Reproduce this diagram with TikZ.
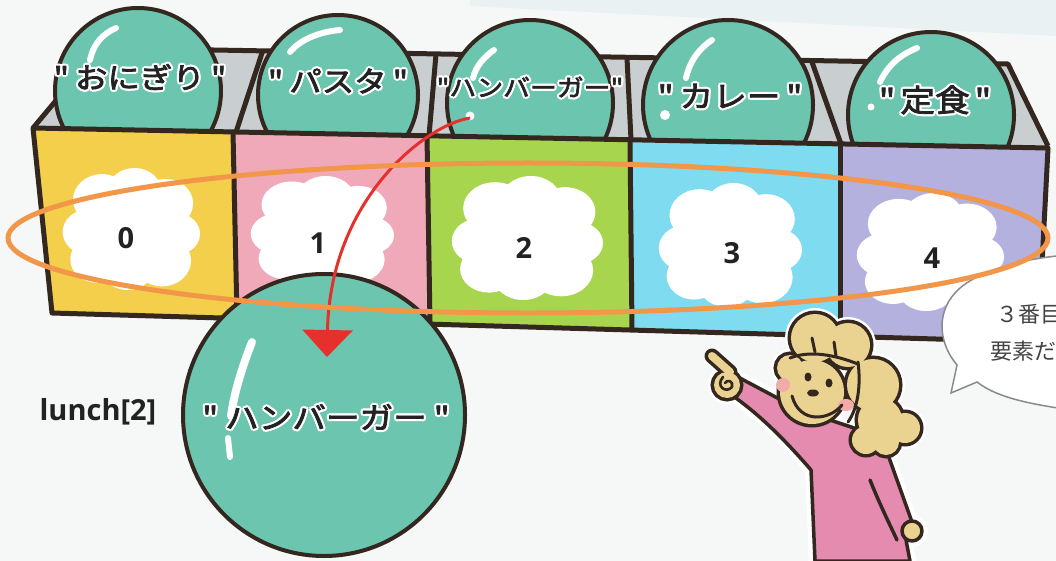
\documentclass[tikz,border=0pt]{standalone}
\usepackage{fontspec}
\usetikzlibrary{arrows.meta}
\newfontfamily\jpfont{Noto Sans CJK JP}[AutoFakeBold=2.5, FakeStretch=1.12]
\newfontfamily\jpplain{Noto Sans CJK JP}
\newfontfamily\latfont{Open Sans}

\definecolor{ink}{HTML}{33271F}
\definecolor{txt}{HTML}{222222}
\definecolor{bubblefill}{HTML}{6CC5AE}
\definecolor{paperbg}{HTML}{F6F7F7}
\definecolor{skyband}{HTML}{E9F1F3}
\definecolor{trayin}{HTML}{C9CED0}
\definecolor{cellA}{HTML}{F3CF4C}
\definecolor{cellB}{HTML}{EFA9B8}
\definecolor{cellC}{HTML}{A7D64E}
\definecolor{cellD}{HTML}{7FDBEF}
\definecolor{cellE}{HTML}{B4B1DF}
\definecolor{loopline}{HTML}{F2964A}
\definecolor{pointer}{HTML}{E5302B}
\definecolor{skin}{HTML}{EAD391}
\definecolor{dress}{HTML}{E58BB0}
\definecolor{blush}{HTML}{F2ABA8}
\definecolor{balloonline}{HTML}{8A8A8A}

% white outline behind a piece of text
\newcommand\halo[1]{\leavevmode\rlap{\color{white}%
  \rlap{\kern2.2pt#1}\rlap{\kern-2.2pt#1}\rlap{\raisebox{2.2pt}{#1}}\rlap{\raisebox{-2.2pt}{#1}}%
  \rlap{\kern1.6pt\raisebox{1.6pt}{#1}}\rlap{\kern-1.6pt\raisebox{1.6pt}{#1}}%
  \rlap{\kern1.6pt\raisebox{-1.6pt}{#1}}\rlap{\kern-1.6pt\raisebox{-1.6pt}{#1}}}#1}

% white cloud: centre x, centre y, half width, half height
\newcommand\cloudat[4]{%
  \begin{scope}[shift={(#1,#2)}, x=#3pt, y=-#4pt]
    \fill[white] (0,0) circle (0.62)
      (-0.62,0.05) circle (0.37) (-0.42,-0.48) circle (0.42) (0.05,-0.6) circle (0.4)
      (0.5,-0.42) circle (0.4) (0.66,0.08) circle (0.34) (0.45,0.52) circle (0.42)
      (-0.05,0.6) circle (0.4) (-0.5,0.5) circle (0.38);
  \end{scope}}

\tikzset{
  bubble/.style={fill=bubblefill, draw=ink, line width=4pt},
  shine/.style={white, line width=6pt, line cap=round},
  toplabel/.style={text=txt, inner sep=0pt},
  digit/.style={text=txt, font=\latfont\bfseries\fontsize{29}{32}\selectfont, inner sep=0pt},
  trayline/.style={draw=ink, line width=5pt, line join=round},
  girlline/.style={draw=ink, line width=3.5pt, line join=round, line cap=round},
}

\begin{document}
\begin{tikzpicture}[x=1pt, y=-1pt]
\useasboundingbox (0,0) rectangle (1056,561);
\clip (0,0) rectangle (1056,561);

% paper
\fill[paperbg] (0,0) rectangle (1056,561);
\fill[skyband] (470,0) -- (1056,0) -- (1056,36) -- (470,6) -- cycle;

% inside of the tray
\fill[trayin] (33,128) -- (100,48) -- (1008,64) -- (1048,146) -- cycle;
\draw[trayline] (33,128) -- (100,48) -- (1008,64) -- (1048,146);
\draw[trayline] (263,50) -- (236,132);
\draw[trayline] (436,54) -- (429,136);
\draw[trayline] (627,58) -- (631,140);
\draw[trayline] (812,62) -- (841,144);

% the five stored values
\draw[bubble] (138,91) circle (83);
\draw[bubble] (338,95) circle (80);
\draw[bubble] (530,103) circle (83);
\draw[bubble] (728,105) circle (85);
\draw[bubble] (931,115) circle (83);

\draw[shine] (116,28) .. controls (102,34) and (93,45) .. (90,60);
\draw[shine] (340,30) .. controls (318,32) and (300,40) .. (290,52);
\draw[shine] (494,50) .. controls (484,57) and (476,66) .. (473,78);
\draw[shine] (712,40) .. controls (700,48) and (690,60) .. (686,78);
\draw[shine] (917,48) .. controls (900,55) and (888,65) .. (880,82);
\fill[white] (470,116) circle (4.5);
\fill[white] (665,115) circle (5);
\fill[white] (871,107) circle (3.5);

\node[toplabel, font=\jpfont\bfseries\fontsize{29}{32}\selectfont] (lab0) at (140,77) {\halo{"\hspace{6pt}おにぎり\hspace{6pt}"}};
\node[toplabel, font=\jpfont\bfseries\fontsize{29}{32}\selectfont] (lab1) at (338,81) {\halo{"\hspace{6pt}パスタ\hspace{6pt}"}};
\node[toplabel, font=\jpfont\bfseries\fontsize{24}{28}\selectfont] (lab2) at (530,87) {\halo{"ハンバーガー"}};
\node[toplabel, font=\jpfont\bfseries\fontsize{30}{32}\selectfont] (lab3) at (730,96) {\halo{"\hspace{6pt}カレー\hspace{6pt}"}};
\node[toplabel, font=\jpfont\bfseries\fontsize{31}{34}\selectfont] (lab4) at (935,100) {\halo{"\hspace{5pt}定食\hspace{5pt}"}};

% front of the tray
\fill[cellA] (33,128) -- (233,132) -- (237,318) -- (52,313) -- cycle;
\fill[cellB] (233,132) -- (427,136) -- (430,324) -- (237,318) -- cycle;
\fill[cellC] (427,136) -- (630,140) -- (632,330) -- (430,324) -- cycle;
\fill[cellD] (630,140) -- (840,144) -- (840,336) -- (632,330) -- cycle;
\fill[cellE] (840,144) -- (1048,148) -- (1038,342) -- (840,336) -- cycle;

\cloudat{131}{229}{69}{61}
\cloudat{322}{231}{72}{55}
\cloudat{527}{238}{76}{62}
\cloudat{730}{245}{72}{62}
\cloudat{930}{252}{74}{59}

\node[digit] (idx0) at (126,238) {0};
\node[digit] (idx1) at (318,243) {1};
\node[digit] (idx2) at (524,248) {2};
\node[digit] (idx3) at (732,253) {3};
\node[digit] (idx4) at (932,258) {4};

\draw[trayline] (33,128) -- (1048,148) -- (1038,342) -- (52,313) -- cycle;
\draw[trayline] (233,132) -- (237,318);
\draw[trayline] (427,136) -- (430,324);
\draw[trayline] (630,140) -- (632,330);
\draw[trayline] (840,144) -- (840,336);

% the value that is read out
\draw[bubble] (324,415) circle (141);
\draw[white, line width=8pt, line cap=round] (252,342) .. controls (244,362) and (234,392) .. (231,416);
\draw[white, line width=6pt, line cap=round] (228,438) -- (230,457);
\node[toplabel, font=\jpfont\bfseries\fontsize{30}{34}\selectfont] (readout) at (326,417) {\halo{"\hspace{7pt}ハンバーガー\hspace{7pt}"}};

\node[text=txt, font=\latfont\bfseries\fontsize{29}{32}\selectfont, inner sep=0pt] (expr) at (98,412) {lunch[2]};

% speech balloon
\draw[balloonline, line width=1.5pt, fill=white] (957,365) .. controls (940,345) and (935,315) .. (955,293)
  .. controls (975,270) and (1030,257) .. (1070,255) -- (1070,410)
  .. controls (1040,405) and (1000,400) .. (977,382) -- (951,393) -- cycle;
\node[anchor=west, text=txt!85, font=\jpplain\fontsize{22}{24}\selectfont, inner sep=0pt] (say1) at (996,314) {３番目};
\node[anchor=west, text=txt!85, font=\jpplain\fontsize{22}{24}\selectfont, inner sep=0pt] (say2) at (990,351) {要素だ};

% girl: white sticker edge
\begin{scope}[white, line width=12pt, line join=round, line cap=round]
  \draw (736,376) -- (800,410) -- (860,430) -- (887,452) .. controls (897,480) and (906,505) .. (913,525)
    -- (906,540) -- (910,561) -- (815,561) -- (811,470) .. controls (785,440) and (760,415) .. (733,396) -- cycle;
  \draw (712,356) -- (730,372);
  \draw (727,385) circle (13);
  \draw (912,531) circle (10);
  \foreach \p/\r in {{815,338}/24, {848,345}/22, {812,392}/32, {873,385}/26, {880,420}/22,
                     {905,428}/15, {886,442}/13, {790,368}/13, {866,440}/14}
    \draw (\p) circle (\r);
\end{scope}

% girl: dress and arm
\filldraw[fill=dress, girlline] (736,376) -- (800,410) -- (860,430) -- (887,452) .. controls (897,480) and (906,505) .. (913,525)
    -- (906,540) -- (910,561) -- (815,561) -- (811,470) .. controls (785,440) and (760,415) .. (733,396) -- cycle;
\draw[girlline] (870,480) .. controls (880,505) and (890,525) .. (897,540);
\filldraw[fill=skin, girlline] (912,531) circle (10);

% girl: pointing hand
\draw[ink, line width=15pt, line cap=round] (712,356) -- (730,372);
\draw[ink, line width=7pt] (727,385) circle (13);
\draw[skin, line width=8pt, line cap=round] (712,356) -- (730,372);
\fill[skin] (727,385) circle (13);
\draw[girlline, line width=2.6pt] (723,377) .. controls (715,386) and (726,394) .. (732,387)
  .. controls (734,381) and (727,379) .. (725,383);

% girl: head and hair
\foreach \p/\r in {{815,338}/24, {848,345}/22, {812,392}/32, {873,385}/26, {880,420}/22,
                   {905,428}/15, {886,442}/13, {790,368}/13, {866,440}/14}
  \draw[ink, line width=7pt] (\p) circle (\r);
\foreach \p/\r in {{815,338}/24, {848,345}/22, {812,392}/32, {873,385}/26, {880,420}/22,
                   {905,428}/15, {886,442}/13, {790,368}/13, {866,440}/14}
  \fill[skin] (\p) circle (\r);
\fill[blush] (783,385) circle (7);
\fill[blush] (846,405) ellipse (8 and 6);
\fill[ink] (808,377) ellipse (3.5 and 4.5);
\fill[ink] (829,383) ellipse (3.5 and 4.5);
\fill[ink] (813,393) ellipse (6 and 3.5);
\draw[girlline, line width=3pt] (792,396) .. controls (800,425) and (830,420) .. (842,405);
\draw[girlline, line width=3pt] (858,362) .. controls (861,385) and (858,408) .. (848,422);
\draw[girlline, line width=3pt] (790,358) .. controls (810,350) and (835,355) .. (858,364);
\draw[girlline, line width=3pt] (812,338) -- (815,352);
\draw[girlline, line width=3pt] (834,342) -- (836,356);

% reading element 2
\coordinate (takefrom) at (470,118);
\coordinate (putto) at (327,357);
\draw[pointer, line width=3pt, -{Triangle[width=50pt,length=27pt]}] (takefrom) .. controls (425,125) and (330,200) .. (putto);

% the index row
\draw[loopline, line width=5pt] (528,238) ellipse (520 and 75);
\end{tikzpicture}
\end{document}
